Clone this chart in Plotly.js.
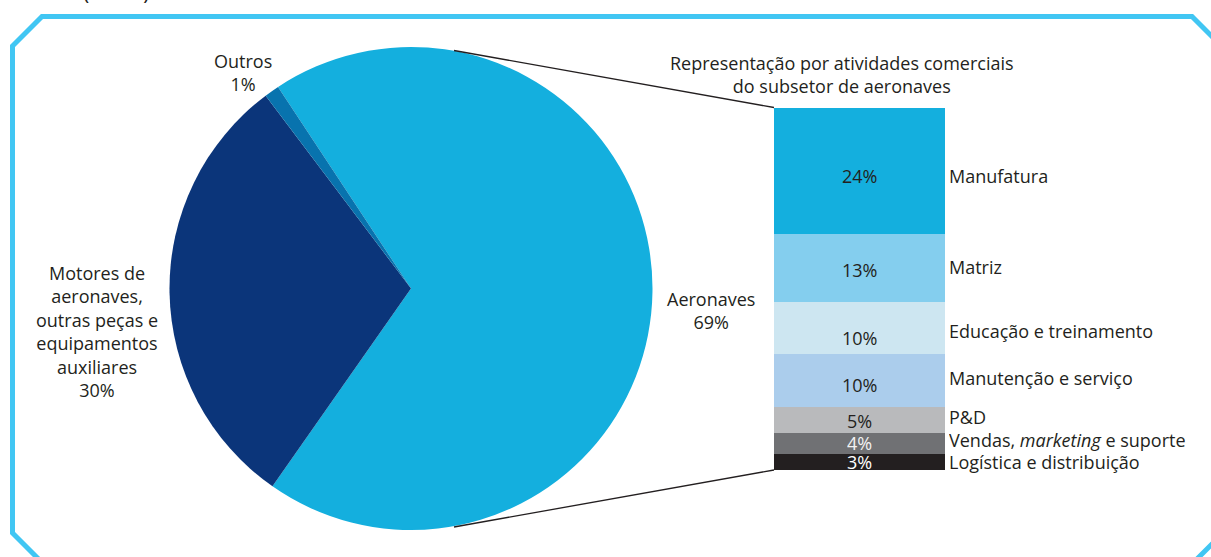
<!DOCTYPE html>
<html>
<head>
<meta charset="utf-8">
<script src="https://cdn.plot.ly/plotly-3.0.1.min.js"></script>
<style>html,body{margin:0;padding:0;background:#fff;}#chart{width:1211px;height:557px;}</style>
</head>
<body>
<div id="chart"></div>
<script>
// ---- Data ----
var pieLabels = ["Aeronaves", "Motores de aeronaves, outras peças e equipamentos auxiliares", "Outros"];
var pieValues = [69, 30, 1];
var pieColors = ["#14afde", "#0b357a", "#0873ae"];

var barCategories = ["Manufatura", "Matriz", "Educação e treinamento", "Manutenção e serviço", "P&D", "Vendas, <i>marketing</i> e suporte", "Logística e distribuição"];
var barValues = [24, 13, 10, 10, 5, 4, 3];
var barColors = ["#14afde", "#84ceee", "#cde6f1", "#abcdec", "#b9babc", "#707174", "#231f20"];
var barTextColors = ["#231f20", "#231f20", "#231f20", "#231f20", "#231f20", "#f2f2f2", "#ffffff"];

// ---- Helpers ----
var W = 1211, H = 557;
function px(x){ return x / W; }
function py(y){ return 1 - y / H; }
var FONT = "Open Sans, Noto Sans, DejaVu Sans, sans-serif";
var TXT = "#231f20";
var FS = 18;
var valueShift = [-5, -2, -10, -4, -1, 1, 0];   // small vertical nudges (px) as in the original
var nameShift = [-5, 1, -2, 3, 4, 4, 1];

var traces = [];
traces.push({
  type: "pie",
  labels: pieLabels,
  values: pieValues,
  marker: {colors: pieColors, line: {width: 0}},
  sort: false,
  direction: "clockwise",
  rotation: -33.4,
  textinfo: "none",
  hoverinfo: "label+percent",
  domain: {x: [px(169.5), px(652.5)], y: [py(530), py(47)]},
  showlegend: false
});

var total = barValues.reduce(function(a,b){return a+b;}, 0);
var cum = 0;
var annotations = [];
for (var i = 0; i < barValues.length; i++) {
  traces.push({
    type: "bar",
    x: [" "],
    y: [barValues[i]],
    name: barCategories[i],
    marker: {color: barColors[i], line: {width: 0}},
    width: 1,
    hoverinfo: "name+y",
    showlegend: false
  });
  var mid = cum + barValues[i] / 2;
  annotations.push({
    xref: "x", yref: "y", x: 0, y: mid, yshift: valueShift[i],
    text: barValues[i] + "%", showarrow: false,
    font: {family: FONT, size: FS, color: barTextColors[i]},
    xanchor: "center", yanchor: "middle", height: 18, borderpad: 0
  });
  annotations.push({
    xref: "x", yref: "y", x: 0.5, y: mid, yshift: nameShift[i],
    text: barCategories[i], showarrow: false, xshift: 3,
    font: {family: FONT, size: FS, color: TXT},
    xanchor: "left", yanchor: "middle", height: 23, borderpad: 0
  });
  cum += barValues[i];
}

// Pie labels
annotations.push({
  xref: "paper", yref: "paper", x: px(243), y: py(73),
  text: "Outros<br>" + pieValues[2] + "%", showarrow: false,
  font: {family: FONT, size: FS, color: TXT}, align: "center",
  xanchor: "center", yanchor: "middle"
});
annotations.push({
  xref: "paper", yref: "paper", x: px(97), y: py(331),
  text: "Motores de<br>aeronaves,<br>outras peças e<br>equipamentos<br>auxiliares<br>" + pieValues[1] + "%", showarrow: false,
  font: {family: FONT, size: FS, color: TXT}, align: "center",
  xanchor: "center", yanchor: "middle"
});
annotations.push({
  xref: "paper", yref: "paper", x: px(711), y: py(310),
  text: "Aeronaves<br>" + pieValues[0] + "%", showarrow: false,
  font: {family: FONT, size: FS, color: TXT}, align: "center",
  xanchor: "center", yanchor: "middle"
});
// Bar title
annotations.push({
  xref: "paper", yref: "paper", x: px(842), y: py(75),
  text: "Representação por atividades comerciais<br>do subsetor de aeronaves", showarrow: false,
  font: {family: FONT, size: FS, color: TXT}, align: "center",
  xanchor: "center", yanchor: "middle"
});
// Cut-off unit label at top
annotations.push({
  xref: "paper", yref: "paper", x: px(116), y: py(-8),
  text: "(em %)", showarrow: false,
  font: {family: FONT, size: 21, color: TXT},
  xanchor: "center", yanchor: "middle"
});

var frame = "M " + px(42) + "," + py(16.5) +
  " L " + px(1192) + "," + py(16.5) +
  " L " + px(1230) + "," + py(54.5) +
  " L " + px(1230) + "," + py(526) +
  " L " + px(1181) + "," + py(575) +
  " L " + px(54.5) + "," + py(575) +
  " L " + px(12.5) + "," + py(533) +
  " L " + px(12.5) + "," + py(46) + " Z";

var shapes = [
  {type: "path", xref: "paper", yref: "paper", path: frame, line: {color: "#41c6f3", width: 5}, fillcolor: "rgba(0,0,0,0)"},
  {type: "line", xref: "paper", yref: "paper", x0: px(454), y0: py(50.5), x1: px(774), y1: py(107.5), line: {color: "#231f20", width: 1.3}},
  {type: "line", xref: "paper", yref: "paper", x0: px(454), y0: py(527), x1: px(774), y1: py(470), line: {color: "#231f20", width: 1.3}}
];

var layout = {
  width: W, height: H,
  margin: {l: 0, r: 0, t: 0, b: 0, pad: 0},
  paper_bgcolor: "#ffffff", plot_bgcolor: "rgba(0,0,0,0)",
  barmode: "stack", bargap: 0,
  showlegend: false,
  font: {family: FONT, size: FS, color: TXT},
  xaxis: {domain: [px(774), px(945)], range: [-0.5, 0.5], type: "category", visible: false, fixedrange: true},
  yaxis: {domain: [py(470), py(107.5)], range: [total, 0], visible: false, fixedrange: true},
  annotations: annotations,
  shapes: shapes
};

Plotly.newPlot("chart", traces, layout, {displayModeBar: false, staticPlot: true});
</script>
</body>
</html>
